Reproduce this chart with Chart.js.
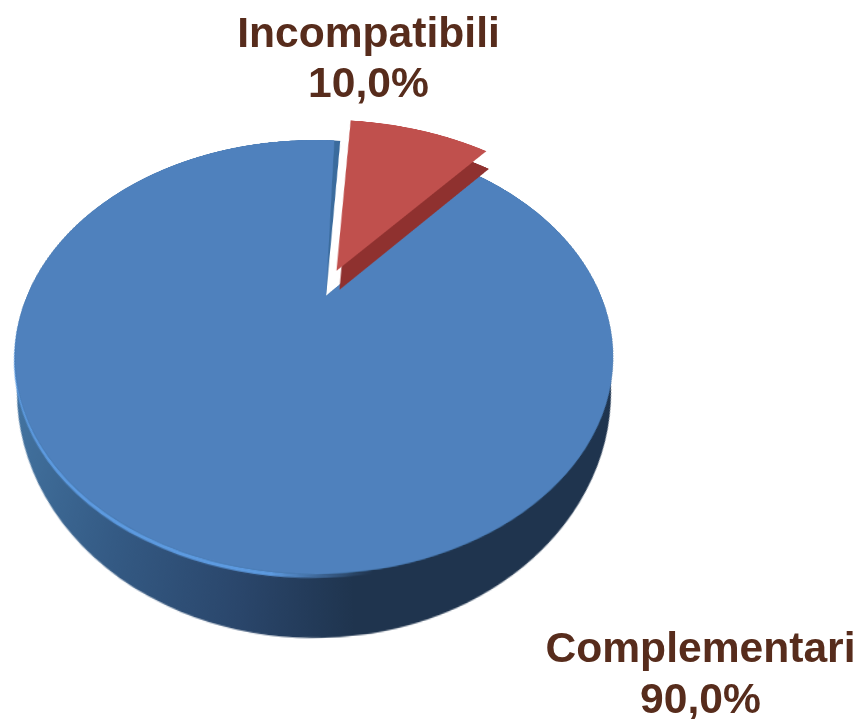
<!DOCTYPE html>
<html><head><meta charset="utf-8">
<style>
html,body{margin:0;padding:0;background:#fff;width:861px;height:719px;overflow:hidden}
#stage{position:absolute;left:0;top:0;width:861px;height:719px;overflow:hidden}
#pie{position:absolute;left:0;top:0;width:861px;height:719px;filter:blur(0.7px)}
#pie canvas{position:absolute!important;left:0;top:0;transform-origin:0 0}
#text{position:absolute!important;left:0;top:0;filter:blur(0.4px)}
</style>
<script src="https://cdn.jsdelivr.net/npm/chart.js@4"></script>
</head><body>
<div id="stage"><div id="pie"></div><canvas id="text" width="861" height="719"></canvas></div>
<script>
const categories = ["Complementari", "Incompatibili"];
const values = [90, 10];
const startAngle = 40;
const sliceOffset = 28;
const blueTop = "#4f81bd", redTop = "#c0504d", redSide = "#8f312f", blueCut = "#3a6b9d", rimBlue = "#5c9ae0";
const labelColor = "#572c1c";
const none = "rgba(0,0,0,0)";

const topE = {ex:314, ey:357, a:299, b:217, ax:326, ay:296};
const redE = {ex:314, ey:357, a:314, b:221, ax:326, ay:288};
const redSideE = {ex:314, ey:357, a:308, b:217, ax:331, ay:296};
const sideE = {ex:314, ey:392, a:297, b:246, ax:322, ay:330};
const SIZE = 640;

function mul(A,B){return A.map(r=>B[0].map((_,j)=>r.reduce((s,v,k)=>s+v*B[k][j],0)));}
function place(chart, E, dx, dy){
  const arc = chart.getDatasetMeta(0).data[0];
  const R = arc.outerRadius, cx = arc.x, cy = arc.y;
  const ba = (E.ax-E.ex)/E.a, bb = (E.ay-E.ey)/E.b, n = ba*ba+bb*bb;
  const g = 1/Math.sqrt(1-n), k = (g-1)/n;
  const M = [[1+k*ba*ba,k*ba*bb,g*ba],[k*ba*bb,1+k*bb*bb,g*bb],[g*ba,g*bb,g]];
  const N = [[1/R,0,-cx/R],[0,1/R,-cy/R],[0,0,1]];
  const A = [[E.a,0,E.ex+dx],[0,E.b,E.ey+dy],[0,0,1]];
  const H = mul(A,mul(M,N));
  chart.canvas.style.transform = "matrix3d("+[H[0][0],H[1][0],0,H[2][0],H[0][1],H[1][1],0,H[2][1],0,0,1,0,H[0][2],H[1][2],0,H[2][2]].join(",")+")";
}
function layer(colors, E, dx, dy, circ){
  const cv = document.createElement("canvas");
  cv.width = SIZE; cv.height = SIZE;
  document.getElementById("pie").appendChild(cv);
  const ctx = cv.getContext("2d");
  const c = new Chart(ctx,{
    type:"pie",
    data:{labels:categories,datasets:[{data:values,backgroundColor:colors(ctx),borderWidth:0,offset:[0,sliceOffset]}]},
    options:{responsive:false,animation:false,rotation:startAngle,circumference:circ||360,
      plugins:{legend:{display:false},tooltip:{enabled:false}},layout:{padding:0}}
  });
  place(c,E,dx||0,dy||0);
  return c;
}
const gx = X => SIZE/2 + (X-314)/299*(SIZE/2-28);
function sideGrad(ctx){
  const g = ctx.createLinearGradient(gx(20),0,gx(340),0);
  g.addColorStop(0,"#42729f"); g.addColorStop(0.35,"#345a84"); g.addColorStop(0.7,"#2a466b"); g.addColorStop(1,"#1f344e");
  return [g,none];
}
function rimGrad(ctx){
  const g = ctx.createLinearGradient(gx(270),0,gx(350),0);
  g.addColorStop(0,rimBlue); g.addColorStop(1,"rgba(79,129,189,0)");
  return [g,none];
}
layer(sideGrad, sideE);
layer(rimGrad, topE, -1, 4);
layer(()=>[blueCut,none], topE);
layer(()=>[blueTop,none], topE, 0, 0, 358.3);
layer(()=>[none,redSide], redSideE, 6, -2);
layer(()=>[none,redTop], redE, 8, -13);

const textChart = new Chart(document.getElementById("text"),{
  type:"pie",
  data:{labels:categories,datasets:[{data:values,backgroundColor:[none,none],borderWidth:0}]},
  options:{responsive:false,animation:false,plugins:{legend:{display:false},tooltip:{enabled:false}}},
  plugins:[{id:"labels",afterDraw(ch){
    const x = ch.ctx;
    const pos = [[700.5,662,713],[368.5,47,97]];
    x.save();
    x.font = "bold 42.6px 'Liberation Sans'";
    x.fillStyle = labelColor; x.textAlign = "center"; x.textBaseline = "alphabetic";
    categories.forEach((n,i)=>{
      x.fillText(n,pos[i][0],pos[i][1]);
      x.fillText(values[i].toFixed(1).replace(".",",")+"%",pos[i][0],pos[i][2]);
    });
    x.restore();
  }}]
});
</script>
</body></html>
